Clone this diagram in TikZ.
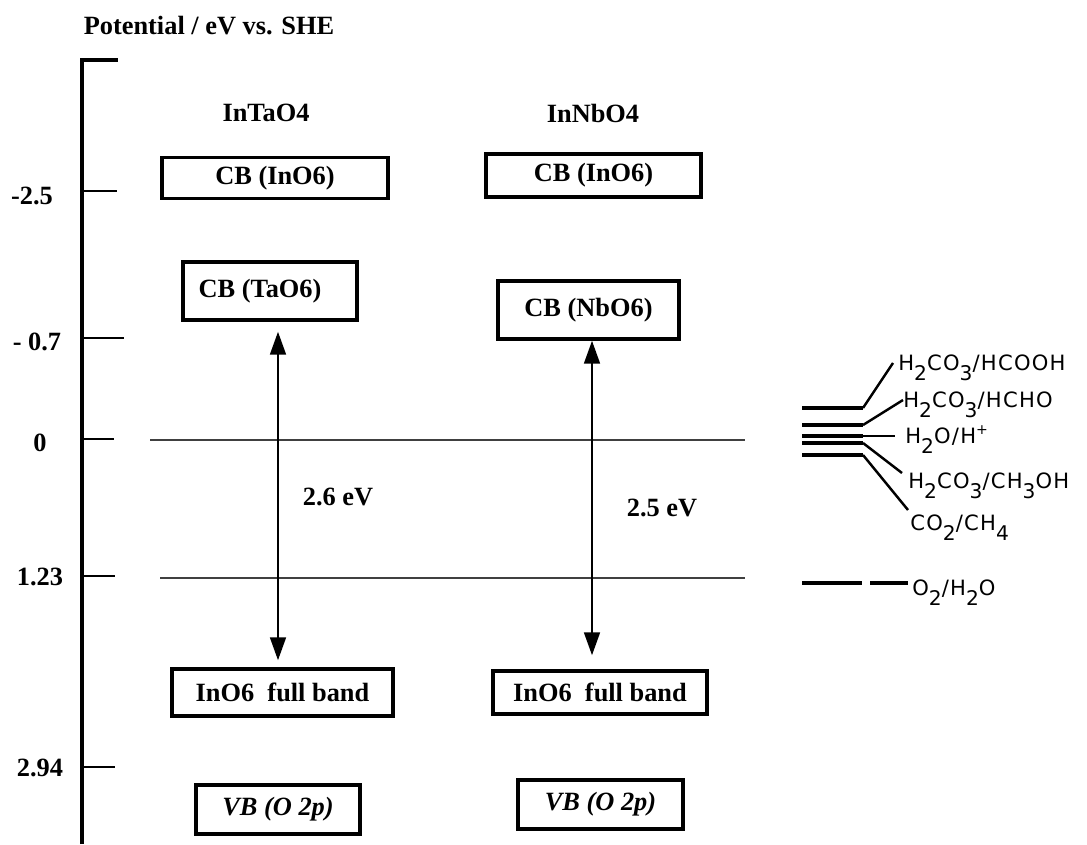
\documentclass[tikz,border=0pt]{standalone}
\usepackage{fontspec}
\setmainfont{Liberation Serif}
\newfontfamily\redoxfont[LetterSpace=6]{DejaVu Sans}
\usetikzlibrary{arrows.meta}

\newcommand{\lo}[1]{\raisebox{-6pt}{\fontsize{11.5}{11.5}\selectfont #1}}
\newcommand{\hi}[1]{\raisebox{5pt}{\fontsize{8}{8}\selectfont #1}}

\tikzset{
  band/.style={draw, line width=2pt, inner sep=0pt, font=\fontsize{15}{18}\selectfont\bfseries},
  lbl/.style={font=\fontsize{15}{18}\selectfont\bfseries},
  tick/.style={line width=1.2pt},
  level/.style={line width=0.6pt, black!75},
  gap/.style={line width=1.2pt, {Triangle[length=13pt,width=9pt]}-{Triangle[length=13pt,width=9pt]}},
  redox/.style={font=\redoxfont\fontsize{12}{14}\selectfont, anchor=base west, inner sep=0pt},
  couple/.style={line width=2pt},
  lead/.style={line width=1.4pt}
}

\begin{document}
\begin{tikzpicture}[x=0.2mm, y=-0.2mm]
\useasboundingbox (0,0) rectangle (1087,844);

% Axis
\node[lbl] (title) at (209,26) {Potential / eV vs. SHE};
\draw[line width=2.6pt] (82,844) -- (82,60) -- (118,60);
\foreach \yy/\len in {191/35, 338/42, 439/32, 576/33, 767/33}
  \draw[tick] (82,\yy) -- ++(\len,0);
\node[lbl] (vm25) at (32,196) {-2.5};
\node[lbl] (vm07) at (37,342) {- 0.7};
\node[lbl] (vzero) at (40,443) {0};
\node[lbl] (v123) at (40,577) {1.23};
\node[lbl] (v294) at (40,768) {2.94};

% Reference levels
\draw[level] (150,440) -- (745,440);
\draw[level] (160,578) -- (745,578);

% InTaO4
\node[lbl] (ta) at (266,113) {InTaO4};
\node[band, minimum width=45.2mm, minimum height=8.2mm] (cbinta) at (275,178) {CB (InO6)};
\node[band, minimum width=34.8mm, minimum height=11.6mm] (cbta) at (270,291) {CB (TaO6)\kern4mm};
\node[band, minimum width=44.2mm, minimum height=9.4mm] (fullta) at (282.5,692.5) {InO6\ \ full band};
\node[band, minimum width=32.8mm, minimum height=9.8mm] (vbta) at (278,809.5) {\itshape VB (O 2p)};

% InNbO4
\node[lbl] (nb) at (593,113) {InNbO4};
\node[band, minimum width=43mm, minimum height=8.6mm] (cbinnb) at (593.5,175.5) {CB (InO6)};
\node[band, minimum width=36.2mm, minimum height=11.6mm] (cbnb) at (588.5,310) {CB (NbO6)};
\node[band, minimum width=42.8mm, minimum height=8.6mm] (fullnb) at (600,692.5) {InO6\ \ full band};
\node[band, minimum width=33mm, minimum height=9.8mm] (vbnb) at (600.5,804.5) {\itshape VB (O 2p)};

% Band gaps
\coordinate (gapta) at (278,0);
\coordinate (gapnb) at (592,0);
\draw[gap, shorten <=2mm, shorten >=1.4mm] (cbta.south -| gapta) -- (fullta.north -| gapta);
\draw[gap, shorten >=2.8mm] (cbnb.south -| gapnb) -- (fullnb.north -| gapnb);
\node[lbl] (egta) at (338,497) {2.6 eV};
\node[lbl] (egnb) at (662,508) {2.5 eV};

% Redox potentials
\node[redox] (hcooh) at (898,370) {H\lo{2}CO\lo{3}/HCOOH};
\node[redox] (hcho) at (903,407) {H\lo{2}CO\lo{3}/HCHO};
\node[redox] (hplus) at (905,443) {H\lo{2}O/H\hi{+}};
\node[redox] (meoh) at (908,488) {H\lo{2}CO\lo{3}/CH\lo{3}OH};
\node[redox] (ch4) at (910,530) {CO\lo{2}/CH\lo{4}};
\node[redox] (o2) at (912,595) {O\lo{2}/H\lo{2}O};
\coordinate (r1) at (802,408);
\coordinate (r2) at (802,425);
\coordinate (r3) at (802,436);
\coordinate (r4) at (802,443);
\coordinate (r5) at (802,455);
\coordinate (r6) at (802,583);
\draw[couple] (r1) -- ++(61,0);
\draw[lead] ([shift={(61,0)}]r1) -- ([shift={(-5,-7)}]hcooh.base west);
\draw[couple] (r2) -- ++(61,0);
\draw[lead] ([shift={(61,0)}]r2) -- ([shift={(0,-7)}]hcho.base west);
\draw[couple] (r3) -- ++(61,0);
\draw[lead] ([shift={(61,0)}]r3) -- ([shift={(-10,-7)}]hplus.base west);
\draw[couple] (r4) -- ++(61,0);
\draw[lead] ([shift={(61,0)}]r4) -- ([shift={(-6,-15)}]meoh.base west);
\draw[couple] (r5) -- ++(61,0);
\draw[lead] ([shift={(61,0)}]r5) -- ([shift={(-2,-20)}]ch4.base west);
\draw[couple, dash pattern=on 12mm off 1.6mm on 10mm] (r6) -- ([shift={(-4,-12)}]o2.base west);

\end{tikzpicture}
\end{document}
